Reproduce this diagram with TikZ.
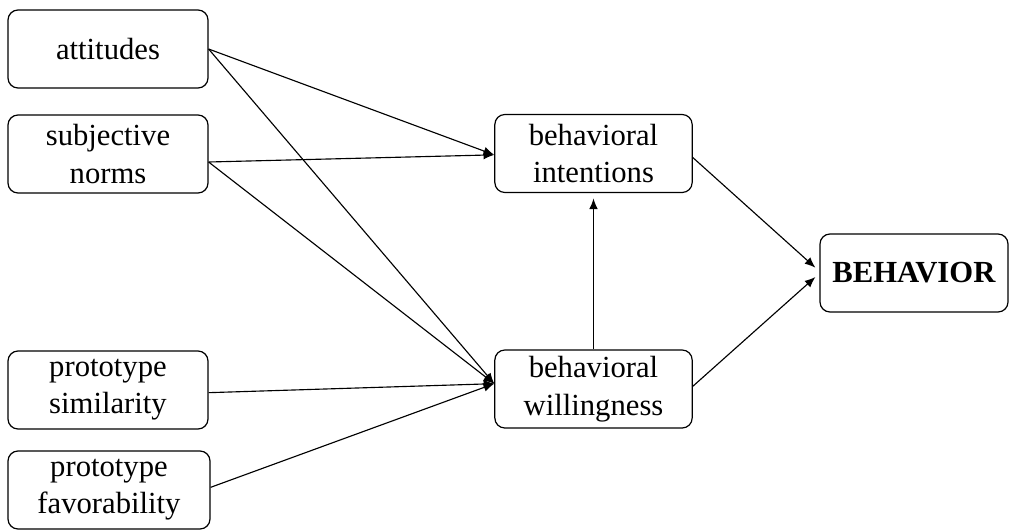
\documentclass[tikz,border=0pt]{standalone}
\usepackage{fontspec}
\setmainfont{Liberation Serif}
\usetikzlibrary{
arrows.meta,
positioning,
calc
}
\tikzset{
kasten/.style={draw, line width=0.9pt, rounded corners=7.5pt, align=center, minimum height=58.5pt, inner sep=2pt, font=\fontsize{23}{28}\selectfont},
pfeil/.style={-{Latex[length=8pt,width=6.5pt]}, line width=0.85pt}
}

\begin{document}
\begin{tikzpicture}[x=0.75pt,y=-0.75pt]
\useasboundingbox (0,0) rectangle (1010,529);

% linke Spalte
\node[kasten, minimum width=150pt] (att) at (108,49) {attitudes};
\node[kasten, minimum width=150pt] (norm) at (108,154) {subjective\\norms};
\node[kasten, minimum width=150pt] (sim) at (108,390) {prototype\\similarity};
\node[kasten, minimum width=151.5pt] (fav) at (109,490) {prototype\\favorability};

% mitte
\node[kasten, minimum width=148pt] (int) at (593.5,153.5) {behavioral\\intentions};
\node[kasten, minimum width=148pt] (will) at (593.5,389) {behavioral\\willingness};

% rechts
\node[kasten, minimum width=141pt] (beh) at (914,273) {\textbf{BEHAVIOR}};

\coordinate (intIn) at ([yshift=-1pt]int.west);
\coordinate (willIn) at ([yshift=4pt]will.west);

\draw[pfeil] (att.east) -- (intIn);
\draw[pfeil] (att.east) -- (willIn);
\draw[pfeil] ([yshift=-6pt]norm.east) -- (intIn);
\draw[pfeil] ([yshift=-6pt]norm.east) -- (willIn);
\draw[pfeil] ([yshift=-2pt]sim.east) -- (willIn);
\draw[pfeil] ([yshift=2pt]fav.east) -- (willIn);

\draw[pfeil] (will.north) -- ([yshift=-4pt]int.south);%hoch

\draw[pfeil] ([yshift=-3pt]int.east) -- ([xshift=-3pt,yshift=4pt]beh.west);
\draw[pfeil] ([yshift=2pt]will.east) -- ([xshift=-3pt,yshift=-3pt]beh.west);
\end{tikzpicture}
\end{document}
